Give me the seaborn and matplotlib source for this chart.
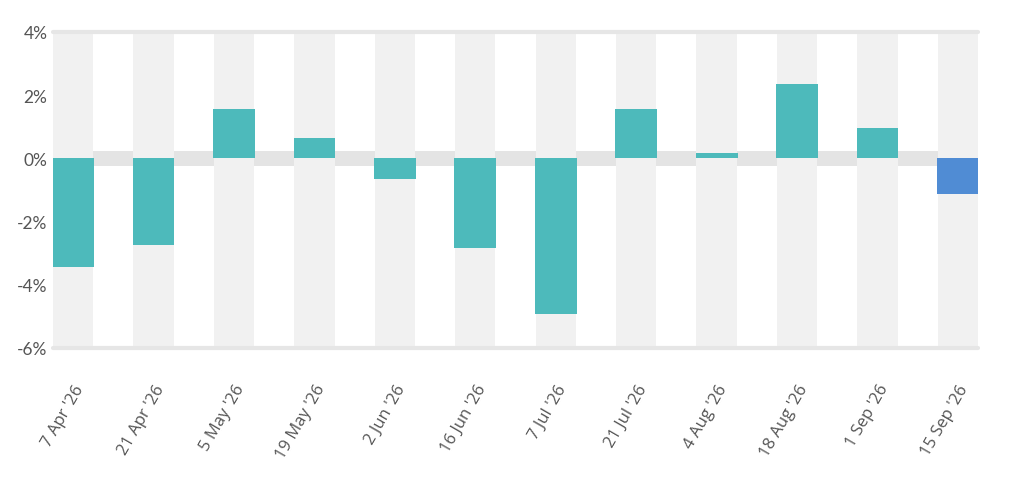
import matplotlib
matplotlib.use("Agg")
import matplotlib.pyplot as plt
import seaborn as sns
import pandas as pd

categories = ["7 Apr '26", "21 Apr '26", "5 May '26", "19 May '26", "2 Jun '26",
              "16 Jun '26", "7 Jul '26", "21 Jul '26", "4 Aug '26", "18 Aug '26",
              "1 Sep '26", "15 Sep '26"]
values = [-3.44, -2.74, 1.55, 0.66, -0.65, -2.84, -4.92, 1.56, 0.16, 2.34, 0.95, -1.13]
y_ticks = [-6, -4, -2, 0, 2, 4]
y_tick_labels = ["-6%", "-4%", "-2%", "0%", "2%", "4%"]

teal = "#4dbabb"
blue = "#508cd4"
colors = [teal] * (len(categories) - 1) + [blue]

sns.set_theme(style="white")
plt.rcParams['font.family'] = ['Lato', 'DejaVu Sans']

fig = plt.figure(figsize=(10.24, 4.85), dpi=100)
ax = fig.add_axes([53 / 1024, 1 - 349 / 485, (978 - 53) / 1024, (349 - 33) / 485])

df = pd.DataFrame({"cat": categories, "val": values})

# background: zero band, then alternating columns
ax.axhspan(-0.24, 0.24, color="#e4e4e4", zorder=0, lw=0)
for i in range(len(categories)):
    ax.axvspan(i - 0.25, i + 0.25, color="#f1f1f1", zorder=0.5, lw=0)

sns.barplot(data=df, x="cat", y="val", hue="cat", palette=colors, legend=False,
            width=0.52, ax=ax, zorder=2, saturation=1, edgecolor="none")

ax.set_xlim(-0.25, len(categories) - 0.75)
ax.set_ylim(-6, 4)
ax.axhline(4, color="#e6e6e6", lw=3, zorder=1, clip_on=False)
ax.axhline(-6, color="#e6e6e6", lw=3, zorder=1, clip_on=False)

for s in ax.spines.values():
    s.set_visible(False)
ax.grid(False)
ax.set_xlabel("")
ax.set_ylabel("")

ax.set_yticks(y_ticks)
ax.set_yticklabels(y_tick_labels, fontsize=12.5, color="#555555")
ax.tick_params(axis="y", length=0, pad=4)

ax.set_xticks(range(len(categories)))
ax.set_xticklabels(categories, fontsize=12, color="#555555", family=['Open Sans', 'DejaVu Sans'],
                   rotation=60, ha="right", rotation_mode="anchor")
ax.tick_params(axis="x", length=0, pad=24)

fig.savefig("out.png", dpi=100, facecolor="white")
